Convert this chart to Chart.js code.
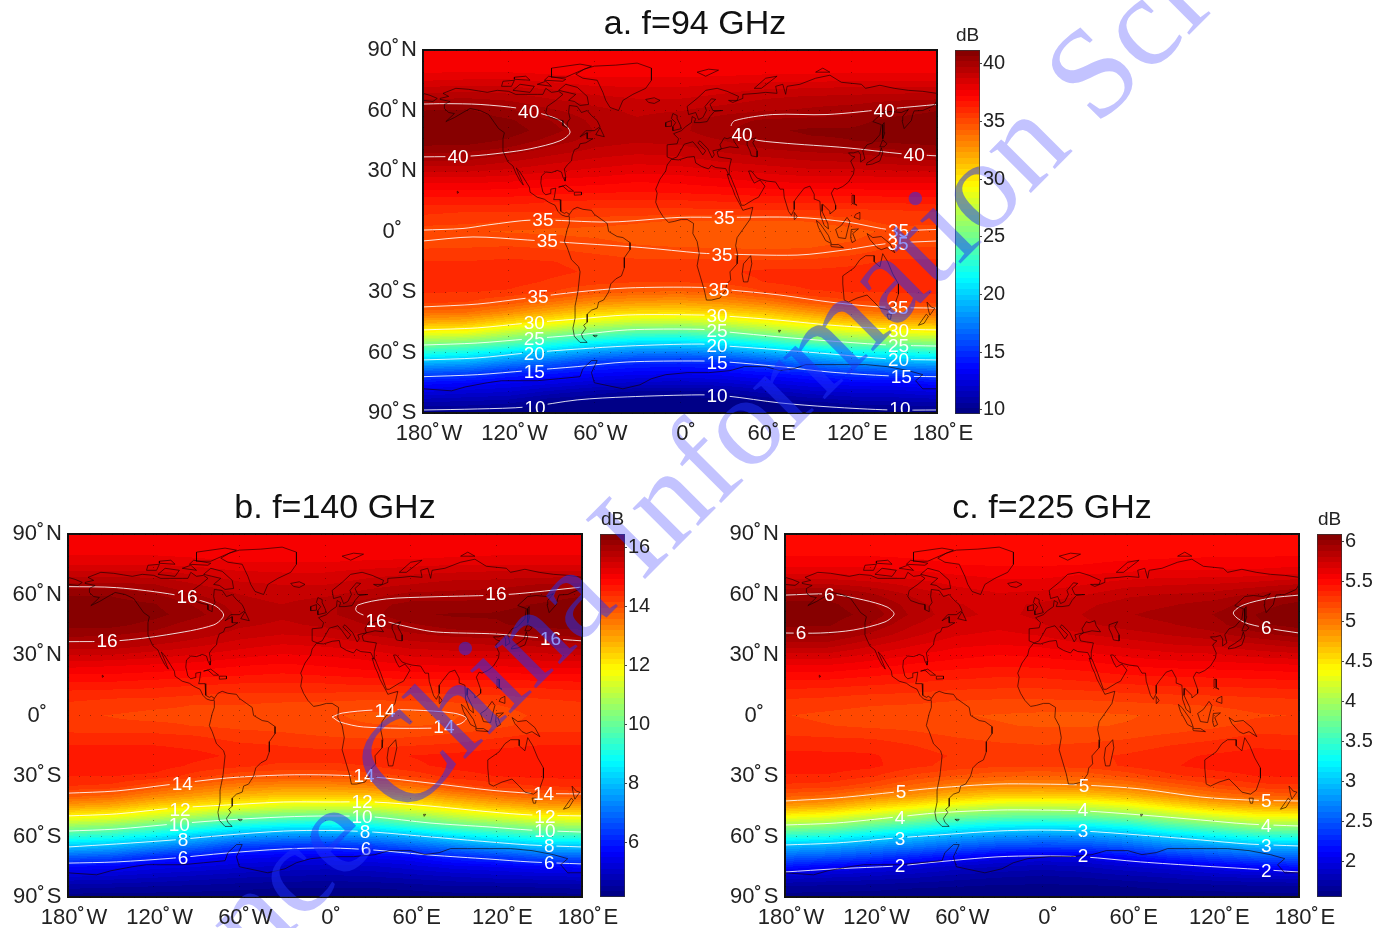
<!DOCTYPE html>
<html>
<head>
<meta charset="utf-8">
<title>Rain attenuation maps</title>
<script src="https://cdn.jsdelivr.net/npm/chart.js@4"></script>
<style>
html, body { margin: 0; padding: 0; background: #fff; width: 1377px; height: 928px; overflow: hidden; position: relative; }
canvas { position: absolute; }
.wm {
    position: absolute; left: 99px; top: 1018px; white-space: nowrap;
    font: 128px/1 "Liberation Serif", serif;
    transform-origin: 0 0.8375em; transform: rotate(-45deg); pointer-events: none;
}
#wmBack { color: rgb(195, 195, 255); }
#wmFront { color: rgba(30, 50, 250, 0.5); }
#wmClip {
    position: absolute; left: 0; top: 0; width: 1377px; height: 928px; overflow: hidden; pointer-events: none;
    clip-path: path('M423 50H937V413H423Z M68 534H582V897H68Z M785 534H1299V897H785Z M955 50H979V415H955Z M600 534H625V898H600Z M1317 534H1342V898H1317Z');
}
</style>
</head>
<body>
<div class="wm" id="wmBack">Science China Information Sciences</div>
<canvas id="mapA"></canvas><canvas id="barA"></canvas>
<canvas id="mapB"></canvas><canvas id="barB"></canvas>
<canvas id="mapC"></canvas><canvas id="barC"></canvas>
<div id="wmClip"><div class="wm" id="wmFront">Science China Information Sciences</div></div>
<script>
const gridLons = [-180, -150, -120, -90, -60, -30, 0, 30, 60, 90, 120, 150, 180];
const gridLats = [90, 85, 80, 75, 70, 65, 60, 55, 50, 45, 40, 35, 30, 25, 20, 15, 10, 5, 0, -5, -10, -15, -20, -25, -30, -35, -40, -45, -50, -55, -60, -65, -70, -75, -80, -85, -90];

const lonTickLabels = { '-180': '180˚\u200AW', '-120': '120˚\u200AW', '-60': '60˚\u200AW', '0': '0˚', '60': '60˚\u200AE', '120': '120˚\u200AE', '180': '180˚\u200AE' };
const latTickLabels = { '90': '90˚\u200AN', '60': '60˚\u200AN', '30': '30˚\u200AN', '0': '0˚', '-30': '30˚\u200AS', '-60': '60˚\u200AS', '-90': '90˚\u200AS' };

const barTicksA = [10, 15, 20, 25, 30, 35, 40];
const barTicksB = [6, 8, 10, 12, 14, 16];
const barTicksC = [2, 2.5, 3, 3.5, 4, 4.5, 5, 5.5, 6];

// attenuation, rows follow gridLats, columns follow gridLons
const gridA = [
    [37.3, 37.3, 37.3, 37.3, 37.3, 37.3, 37.3, 37.3, 37.3, 37.3, 37.3, 37.3, 37.3],
    [37.4, 37.4, 37.4, 37.4, 37.4, 37.4, 37.4, 37.4, 37.4, 37.4, 37.4, 37.4, 37.4],
    [37.6, 37.6, 37.6, 37.5, 37.4, 37.4, 37.4, 37.4, 37.5, 37.5, 37.6, 37.6, 37.6],
    [38.2, 38.3, 38.3, 38.1, 37.9, 37.9, 37.9, 38, 38.1, 38.1, 38.2, 38.2, 38.2],
    [39, 39.1, 39, 38.8, 38.5, 38.4, 38.4, 38.6, 38.8, 38.9, 39, 39, 39],
    [39.8, 39.9, 39.7, 39.3, 39, 38.8, 38.8, 39, 39.3, 39.5, 39.5, 39.7, 39.8],
    [40.7, 40.8, 40.3, 39.8, 39.4, 39.1, 39.2, 39.5, 39.7, 39.8, 40, 40.4, 40.7],
    [41, 41.1, 40.8, 40.2, 39.6, 39.3, 39.6, 40, 40.3, 40.4, 40.5, 40.9, 41],
    [41.3, 41.3, 41, 40.4, 39.7, 39.4, 39.6, 40.1, 40.6, 40.8, 40.8, 41, 41.3],
    [41, 41, 40.6, 40, 39.5, 39.3, 39.4, 39.7, 40.2, 40.6, 40.7, 40.9, 41],
    [40.4, 40.3, 40, 39.5, 39.1, 38.9, 39, 39.3, 39.6, 39.8, 39.9, 40.1, 40.4],
    [39.7, 39.7, 39.3, 38.9, 38.6, 38.4, 38.5, 38.8, 39, 39.2, 39.3, 39.5, 39.7],
    [38.8, 38.8, 38.6, 38.3, 38.1, 37.9, 38, 38.2, 38.4, 38.6, 38.6, 38.7, 38.8],
    [37.9, 37.9, 37.8, 37.6, 37.5, 37.3, 37.4, 37.6, 37.8, 37.9, 37.9, 37.9, 37.9],
    [37.2, 37.2, 37.1, 37, 36.9, 36.8, 36.9, 37, 37.1, 37.1, 37.1, 37.2, 37.2],
    [36.5, 36.5, 36.5, 36.3, 36.2, 36.2, 36.2, 36.3, 36.4, 36.4, 36.4, 36.4, 36.5],
    [35.9, 35.8, 35.8, 35.8, 35.6, 35.6, 35.6, 35.6, 35.7, 35.7, 35.6, 35.7, 35.8],
    [35.55, 35.45, 35.25, 35, 35.05, 34.87, 34.74, 34.74, 34.74, 34.8, 35.05, 35.55, 35.5],
    [34.95, 34.85, 34.75, 34.7, 34.6, 34.5, 34.4, 34.4, 34.4, 34.45, 34.6, 34.95, 34.9],
    [35.02, 35.1, 35.1, 35, 34.9, 34.7, 34.6, 34.6, 34.6, 34.6, 34.8, 35.05, 35.02],
    [35.4, 35.4, 35.5, 35.4, 35.2, 35, 34.95, 34.9, 34.85, 34.9, 35.1, 35.5, 35.5],
    [35.8, 35.8, 35.9, 35.8, 35.6, 35.4, 35.4, 35.4, 35.4, 35.4, 35.6, 35.9, 35.9],
    [36, 36, 36.1, 35.9, 35.7, 35.6, 35.6, 35.7, 35.9, 35.9, 36, 36.1, 36],
    [36, 36, 36, 35.7, 35.5, 35.3, 35.3, 35.5, 35.8, 36, 36.1, 36, 36],
    [35.8, 35.8, 35.7, 35.3, 34.7, 34.3, 34.2, 34.5, 35.3, 35.7, 35.8, 35.8, 35.9],
    [35.4, 35.3, 34.7, 33.8, 33, 32.6, 32.5, 32.8, 33.5, 34.6, 35.2, 35.3, 35.4],
    [34, 33.9, 33, 31.9, 30.9, 30.5, 30.4, 30.8, 31.4, 32.5, 33.5, 33.9, 34],
    [32, 31.7, 30.6, 29.6, 28.3, 27.6, 27.5, 28.1, 29.1, 30.2, 31.2, 31.7, 32],
    [29.2, 29, 27.5, 26.3, 25, 24.1, 24, 24.8, 26, 27.3, 28.3, 29, 29.2],
    [26, 25.4, 24.4, 22.8, 21.5, 20.6, 20.5, 21.2, 22.4, 24, 25.1, 25.4, 26],
    [22.6, 22, 20.7, 19.5, 18.3, 17.6, 17.5, 17.9, 19, 20, 21.5, 22, 22.6],
    [19.2, 18.8, 17.6, 16.5, 15.3, 14.8, 14.7, 14.9, 15.9, 17.2, 18.2, 18.8, 19.2],
    [16.2, 15.8, 14.8, 14.3, 13.7, 13.4, 13.3, 13.5, 14, 14.6, 15.4, 15.8, 16.2],
    [13.9, 13.6, 13.2, 12.8, 12.3, 12, 11.9, 12.1, 12.6, 13.1, 13.5, 13.6, 13.9],
    [12.5, 12.2, 12, 11.3, 10.8, 10.4, 10.3, 10.5, 11.2, 11.8, 12.1, 12.2, 12.5],
    [11, 10.9, 10.7, 10, 9.9, 9.9, 9.8, 9.9, 9.9, 10.4, 10.8, 10.9, 11],
    [9.9, 9.9, 9.8, 9.7, 9.7, 9.7, 9.7, 9.7, 9.7, 9.7, 9.8, 9.9, 9.9]
];

const gridB = [
    [14.95, 14.95, 14.95, 14.95, 14.95, 14.95, 14.95, 14.95, 14.95, 14.95, 14.95, 14.95, 14.95],
    [15, 15, 15, 15, 15, 15, 15, 15, 15, 15, 15, 15, 15],
    [15.1, 15.1, 15.1, 15.05, 15, 15, 15, 15, 15, 15.05, 15.1, 15.1, 15.1],
    [15.3, 15.3, 15.3, 15.25, 15.15, 15.15, 15.15, 15.2, 15.25, 15.3, 15.3, 15.3, 15.3],
    [15.6, 15.6, 15.6, 15.5, 15.4, 15.35, 15.35, 15.45, 15.5, 15.55, 15.6, 15.6, 15.6],
    [15.95, 15.95, 15.9, 15.7, 15.55, 15.5, 15.5, 15.6, 15.7, 15.8, 15.8, 15.9, 15.95],
    [16.25, 16.25, 16.1, 15.9, 15.7, 15.6, 15.65, 15.8, 15.95, 15.95, 16, 16.15, 16.25],
    [16.4, 16.4, 16.3, 16.05, 15.8, 15.7, 15.85, 16, 16.15, 16.15, 16.2, 16.3, 16.4],
    [16.45, 16.45, 16.35, 16.15, 15.85, 15.75, 15.85, 16, 16.25, 16.3, 16.3, 16.4, 16.45],
    [16.35, 16.35, 16.2, 15.95, 15.75, 15.65, 15.75, 15.9, 16.05, 16.2, 16.25, 16.35, 16.4],
    [16.15, 16.1, 16, 15.8, 15.6, 15.5, 15.55, 15.7, 15.85, 15.95, 16, 16.1, 16.15],
    [15.85, 15.85, 15.7, 15.55, 15.4, 15.3, 15.35, 15.45, 15.6, 15.65, 15.7, 15.75, 15.85],
    [15.5, 15.5, 15.4, 15.3, 15.2, 15.1, 15.15, 15.2, 15.35, 15.4, 15.4, 15.45, 15.5],
    [15.2, 15.15, 15.1, 15.05, 14.95, 14.9, 14.95, 15.05, 15.1, 15.15, 15.15, 15.2, 15.2],
    [14.9, 14.9, 14.85, 14.8, 14.75, 14.7, 14.75, 14.8, 14.85, 14.85, 14.85, 14.9, 14.9],
    [14.65, 14.65, 14.6, 14.55, 14.5, 14.5, 14.5, 14.55, 14.55, 14.6, 14.6, 14.6, 14.65],
    [14.45, 14.4, 14.4, 14.35, 14.3, 14.3, 14.3, 14.25, 14.3, 14.3, 14.35, 14.4, 14.45],
    [14.3, 14.25, 14.2, 14.15, 14.15, 14.1, 14.08, 14.05, 14.05, 14.1, 14.15, 14.25, 14.3],
    [14.2, 14.15, 14.1, 14.1, 14.1, 14.05, 14, 13.92, 13.9, 13.95, 14.05, 14.2, 14.2],
    [14.25, 14.2, 14.2, 14.15, 14.1, 14.08, 14.02, 13.98, 13.96, 13.98, 14.1, 14.25, 14.25],
    [14.4, 14.4, 14.4, 14.35, 14.25, 14.2, 14.15, 14.1, 14.12, 14.2, 14.3, 14.4, 14.4],
    [14.55, 14.55, 14.55, 14.5, 14.4, 14.35, 14.3, 14.3, 14.35, 14.4, 14.5, 14.55, 14.55],
    [14.6, 14.65, 14.65, 14.6, 14.5, 14.45, 14.45, 14.45, 14.55, 14.6, 14.65, 14.65, 14.6],
    [14.6, 14.65, 14.65, 14.5, 14.4, 14.3, 14.3, 14.35, 14.5, 14.6, 14.65, 14.65, 14.6],
    [14.55, 14.55, 14.5, 14.25, 14.02, 13.95, 13.95, 14.02, 14.2, 14.45, 14.55, 14.6, 14.6],
    [14.35, 14.3, 14, 13.65, 13.4, 13.25, 13.25, 13.35, 13.6, 14.05, 14.25, 14.35, 14.4],
    [13.85, 13.7, 13.3, 13, 12.7, 12.5, 12.5, 12.55, 12.8, 13.2, 13.55, 13.8, 13.9],
    [13, 12.85, 12.4, 12.1, 11.75, 11.45, 11.4, 11.45, 11.85, 12.3, 12.65, 12.95, 13],
    [11.95, 11.75, 11.3, 10.85, 10.3, 10.1, 9.95, 10.1, 10.6, 11.1, 11.5, 11.9, 11.95],
    [10.6, 10.4, 9.9, 9.4, 8.9, 8.65, 8.55, 8.75, 9.3, 9.85, 10.2, 10.55, 10.7],
    [9.3, 9.1, 8.6, 8.05, 7.6, 7.35, 7.3, 7.45, 7.85, 8.4, 8.85, 9.25, 9.35],
    [8.05, 7.85, 7.4, 6.95, 6.4, 6.25, 6.15, 6.35, 6.75, 7.2, 7.6, 8, 8.05],
    [6.8, 6.65, 6.2, 5.85, 5.6, 5.5, 5.45, 5.55, 5.7, 6.1, 6.4, 6.75, 6.85],
    [5.7, 5.6, 5.4, 5.3, 5.15, 5.05, 5, 5.05, 5.2, 5.4, 5.5, 5.65, 5.75],
    [5.1, 5.05, 4.95, 4.85, 4.75, 4.7, 4.65, 4.7, 4.8, 4.9, 5, 5.05, 5.1],
    [4.6, 4.55, 4.5, 4.45, 4.4, 4.35, 4.35, 4.35, 4.4, 4.5, 4.5, 4.55, 4.6],
    [4.2, 4.2, 4.2, 4.2, 4.2, 4.15, 4.15, 4.15, 4.2, 4.2, 4.2, 4.2, 4.2]
];

const gridC = [
    [5.49, 5.49, 5.49, 5.49, 5.49, 5.49, 5.49, 5.49, 5.49, 5.49, 5.49, 5.49, 5.49],
    [5.5, 5.5, 5.5, 5.5, 5.5, 5.5, 5.5, 5.5, 5.5, 5.5, 5.5, 5.5, 5.5],
    [5.52, 5.52, 5.52, 5.51, 5.5, 5.5, 5.5, 5.5, 5.5, 5.51, 5.52, 5.52, 5.52],
    [5.58, 5.58, 5.58, 5.56, 5.53, 5.52, 5.52, 5.53, 5.55, 5.56, 5.56, 5.56, 5.58],
    [5.68, 5.68, 5.66, 5.63, 5.6, 5.58, 5.58, 5.6, 5.62, 5.64, 5.64, 5.65, 5.68],
    [5.82, 5.82, 5.78, 5.72, 5.66, 5.63, 5.63, 5.67, 5.72, 5.74, 5.75, 5.78, 5.82],
    [5.98, 6, 5.9, 5.8, 5.72, 5.68, 5.7, 5.74, 5.8, 5.82, 5.84, 5.9, 5.98],
    [6.05, 6.05, 5.97, 5.85, 5.75, 5.72, 5.76, 5.8, 5.85, 5.88, 5.92, 6, 6.05],
    [6.08, 6.07, 6, 5.87, 5.76, 5.73, 5.76, 5.82, 5.88, 5.92, 5.96, 6.03, 6.08],
    [6.04, 6.04, 5.95, 5.82, 5.73, 5.7, 5.74, 5.8, 5.85, 5.88, 5.93, 6.02, 6.05],
    [5.98, 5.97, 5.87, 5.76, 5.68, 5.65, 5.68, 5.74, 5.78, 5.82, 5.86, 5.93, 5.99],
    [5.85, 5.85, 5.76, 5.68, 5.62, 5.6, 5.62, 5.66, 5.7, 5.74, 5.76, 5.8, 5.85],
    [5.72, 5.72, 5.66, 5.6, 5.56, 5.53, 5.55, 5.58, 5.62, 5.65, 5.66, 5.7, 5.72],
    [5.6, 5.6, 5.56, 5.52, 5.49, 5.47, 5.48, 5.5, 5.54, 5.56, 5.57, 5.58, 5.6],
    [5.5, 5.5, 5.47, 5.44, 5.42, 5.4, 5.41, 5.43, 5.46, 5.47, 5.48, 5.49, 5.5],
    [5.42, 5.41, 5.39, 5.37, 5.35, 5.34, 5.34, 5.36, 5.38, 5.4, 5.4, 5.41, 5.42],
    [5.34, 5.33, 5.31, 5.3, 5.28, 5.27, 5.27, 5.28, 5.3, 5.31, 5.32, 5.33, 5.34],
    [5.28, 5.27, 5.25, 5.24, 5.22, 5.21, 5.21, 5.21, 5.22, 5.24, 5.25, 5.27, 5.28],
    [5.25, 5.23, 5.21, 5.2, 5.18, 5.17, 5.16, 5.16, 5.17, 5.19, 5.21, 5.24, 5.25],
    [5.27, 5.25, 5.23, 5.22, 5.19, 5.18, 5.17, 5.17, 5.18, 5.2, 5.23, 5.27, 5.27],
    [5.32, 5.31, 5.3, 5.27, 5.24, 5.22, 5.21, 5.21, 5.23, 5.26, 5.29, 5.33, 5.32],
    [5.37, 5.36, 5.36, 5.32, 5.28, 5.26, 5.25, 5.26, 5.28, 5.32, 5.35, 5.38, 5.37],
    [5.41, 5.41, 5.4, 5.35, 5.31, 5.28, 5.28, 5.3, 5.33, 5.37, 5.4, 5.42, 5.41],
    [5.43, 5.43, 5.41, 5.34, 5.29, 5.26, 5.26, 5.28, 5.33, 5.38, 5.42, 5.44, 5.43],
    [5.38, 5.38, 5.33, 5.23, 5.17, 5.12, 5.1, 5.12, 5.2, 5.3, 5.35, 5.39, 5.4],
    [5.3, 5.28, 5.2, 5.08, 4.97, 4.93, 4.92, 4.95, 5, 5.12, 5.22, 5.29, 5.3],
    [5.12, 5.08, 4.95, 4.85, 4.7, 4.6, 4.6, 4.62, 4.72, 4.88, 5.02, 5.1, 5.12],
    [4.82, 4.76, 4.6, 4.45, 4.27, 4.16, 4.15, 4.18, 4.3, 4.5, 4.68, 4.78, 4.82],
    [4.4, 4.32, 4.15, 3.97, 3.78, 3.7, 3.67, 3.72, 3.85, 4.05, 4.22, 4.36, 4.38],
    [3.93, 3.85, 3.65, 3.47, 3.3, 3.2, 3.17, 3.2, 3.32, 3.55, 3.72, 3.9, 3.93],
    [3.42, 3.35, 3.15, 3, 2.87, 2.78, 2.74, 2.76, 2.88, 3.05, 3.22, 3.38, 3.43],
    [2.92, 2.86, 2.75, 2.65, 2.52, 2.43, 2.4, 2.42, 2.52, 2.68, 2.78, 2.9, 2.93],
    [2.55, 2.5, 2.4, 2.27, 2.15, 2.03, 1.99, 2.02, 2.15, 2.3, 2.42, 2.52, 2.56],
    [2.2, 2.1, 2.02, 1.95, 1.88, 1.83, 1.8, 1.83, 1.9, 1.95, 2.04, 2.12, 2.2],
    [1.88, 1.85, 1.82, 1.78, 1.73, 1.7, 1.68, 1.7, 1.74, 1.78, 1.83, 1.86, 1.88],
    [1.68, 1.66, 1.65, 1.63, 1.62, 1.6, 1.6, 1.6, 1.62, 1.64, 1.65, 1.67, 1.68],
    [1.58, 1.58, 1.58, 1.57, 1.57, 1.56, 1.56, 1.56, 1.57, 1.57, 1.58, 1.58, 1.58]
];

// contour lines as [lon, lat]
const contoursA = [
    [[-180, 63.2], [-165, 63.4], [-140, 63], [-112, 61], [-95, 58], [-84, 55], [-77, 49.3], [-84, 45], [-105, 41], [-124, 39], [-147, 37.4], [-180, 37]],
    [[180, 63], [149, 61], [103, 58], [65, 58], [38.5, 55], [36, 52], [50, 46], [70, 44], [117, 41.5], [156, 38.5], [180, 37.5]],
    [[-180, 0.7], [-152, 1.5], [-135, 3.2], [-103, 5.7], [-49, 4.7], [0, 7], [30, 7], [82, 7], [117, 4.7], [149, 0.7], [180, 1]],
    [[-180, -4.7], [-145, -2.7], [-107, -4.2], [-68, -6], [-26, -8], [14, -10.7], [23, -11], [82, -11.7], [117, -9], [145, -6], [180, -4.7]],
    [[-180, -37.4], [-142, -36], [-107, -33], [-72, -30], [-37, -28], [14, -27.7], [35, -29], [70, -31.5], [105, -35], [140, -37.4], [180, -38]],
    [[-180, -48.8], [-142, -47.8], [-107, -45.4], [-72, -43.4], [-37, -41.4], [14, -41.4], [33, -42], [70, -44], [105, -46.4], [147, -48.3], [180, -48.8]],
    [[-180, -56.3], [-142, -55.3], [-107, -53.3], [-72, -51.3], [-37, -48.8], [14, -48.5], [33, -49.8], [70, -52.3], [105, -54.3], [147, -56.3], [180, -56.8]],
    [[-180, -63.7], [-142, -62.7], [-107, -60.2], [-72, -58.3], [-37, -56.8], [14, -55.8], [33, -56.8], [70, -58.7], [105, -60.7], [147, -63.2], [180, -63.7]],
    [[-180, -72], [-142, -71], [-107, -69], [-72, -67], [-37, -64.7], [14, -64.2], [33, -64.7], [70, -67], [105, -69.7], [147, -71.6], [180, -72]],
    [[-180, -88.5], [-142, -88], [-107, -87], [-72, -83.5], [-37, -82], [14, -81], [33, -81.6], [70, -85], [105, -87], [147, -88.5], [180, -88.5]]
];
const contoursB = [
    [[-180, 63.9], [-146, 63.4], [-104, 59.7], [-78, 54.8], [-71, 49.8], [-78, 44.9], [-111, 40], [-146, 37], [-180, 36.6]],
    [[180, 63.7], [127.5, 60], [73.5, 58.8], [43, 57.8], [23, 54.8], [21.7, 52], [29, 49.3], [61.6, 43.4], [78, 41.4], [120, 40.4], [153, 38.4], [180, 37]],
    [[5, -0.7], [12, 1.2], [34, 2.7], [62, 2.7], [90, 1.2], [99, -1.2], [94.5, -4.2], [78, -6.2], [27, -5.7], [10.5, -3.2], [5, -0.7]],
    [[-180, -38.5], [-146, -37.4], [-106, -34], [-69, -31], [-29, -29.5], [3.5, -29.5], [34, -30.5], [73.5, -33.5], [115.5, -37], [143.5, -38.5], [180, -38.9]],
    [[-180, -49.8], [-146, -48.8], [-106, -45.9], [-69, -44.4], [-29, -42.9], [3.5, -42.9], [34, -42.9], [73.5, -44.9], [115.5, -47.8], [143.5, -49.3], [180, -49.8]],
    [[-180, -57.3], [-146, -56.3], [-106, -53.8], [-69, -51.8], [-29, -50.3], [3.5, -49.8], [34, -50.3], [73.5, -53.3], [115.5, -55.3], [143.5, -56.8], [180, -57.8]],
    [[-180, -65.2], [-146, -63.7], [-106, -61.7], [-69, -59.3], [-29, -57.3], [3.5, -57], [34, -57.8], [73.5, -60.2], [115.5, -62.7], [143.5, -64.2], [180, -65.2]],
    [[-180, -73.2], [-146, -72.6], [-106, -70.7], [-69, -68.2], [-29, -66.2], [3.5, -65.7], [34, -66.7], [73.5, -69.2], [115.5, -71.2], [143.5, -72.6], [180, -73.6]]
];
const contoursC = [
    [[-180, 59.7], [-148.5, 60.2], [-125, 57.3], [-108.5, 53.8], [-103.6, 50.3], [-110, 46.4], [-132, 42.4], [-155, 40.9], [-180, 40.9]],
    [[180, 59.7], [160, 58.2], [141, 54.8], [134, 50.8], [141, 46.4], [157.5, 43.4], [180, 40.9]],
    [[-180, -42.4], [-144, -40.9], [-101.5, -37.9], [-73.5, -35.9], [-31.5, -34], [-1.4, -34], [29, -34.5], [69, -36.4], [111, -40.4], [144, -41.9], [180, -42.4]],
    [[-180, -54.3], [-144, -53.3], [-101.5, -50.3], [-73.5, -48.3], [-31.5, -46.9], [-1.4, -46.9], [29, -47.3], [69, -49.3], [111, -51.8], [144, -53.8], [180, -54.8]],
    [[-180, -64.2], [-144, -63.2], [-101.5, -60.7], [-73.5, -59.3], [-31.5, -57.3], [-1.4, -56.8], [29, -57.3], [69, -59.3], [111, -61.7], [144, -63.7], [180, -64.7]],
    [[-180, -77.6], [-144, -76], [-101.5, -74.6], [-73.5, -72.6], [-31.5, -70.1], [-1.4, -69.6], [29, -70.1], [69, -72.6], [111, -74.6], [144, -76], [180, -77.6]]
];

// contour labels as [text, lon, lat]
const labelsA = [
    ['40', -106, 59.3], ['40', -155.5, 37], ['40', 43.4, 47.8], ['40', 143, 60], ['40', 164, 38],
    ['35', -96, 5.7], ['35', -93, -4.7], ['35', 31, 6.7], ['35', 29.4, -11.7], ['35', 153, 0.2], ['35', 152.7, -6.2],
    ['35', -99.4, -32.5], ['35', 27.3, -29], ['35', 152.7, -38],
    ['30', -102, -45.4], ['30', 26, -42], ['30', 153, -49.3],
    ['25', -102, -53.3], ['25', 26, -49.3], ['25', 153, -56.8],
    ['20', -102, -60.7], ['20', 26, -56.8], ['20', 153, -63.7],
    ['15', -102, -69.7], ['15', 26, -65.2], ['15', 155, -72],
    ['10', -101.5, -87.5], ['10', 26, -81.6], ['10', 154, -88]
];
const labelsB = [
    ['16', -96.6, 58.8], ['16', -152.7, 37], ['16', 119.7, 60.2], ['16', 35.7, 46.9], ['16', 158, 37.9],
    ['14', 42, 2.2], ['14', 83.3, -5.7], ['14', -100, -34], ['14', 27.3, -30], ['14', 153, -38.9],
    ['12', -101.5, -46.9], ['12', 26, -42.9], ['12', 154, -50.3],
    ['10', -102, -54.3], ['10', 26, -50.3], ['10', 154, -57.3],
    ['8', -99.4, -61.7], ['8', 28, -57.8], ['8', 157, -64.7],
    ['6', -99.4, -70.6], ['6', 28.7, -66.2], ['6', 157, -73]
];
const labelsC = [
    ['6', -149, 59.7], ['6', -168.8, 40.9], ['6', 157, 43.4],
    ['5', -98.7, -37.9], ['5', 29.4, -35], ['5', 157, -42.4],
    ['4', -99.4, -50.8], ['4', 28.7, -46.9], ['4', 157, -54.8],
    ['3', -99.4, -61.2], ['3', 28.7, -57.3], ['3', 157, -64.7],
    ['2', -99.4, -74.6], ['2', 28.7, -69.6], ['2', 157, -77]
];

// coastlines as [lon, lat]
const coastNorthAmerica = [[-168, 66], [-162, 67], [-166, 68.5], [-157, 71], [-148, 70.5], [-141, 69.7], [-135, 69], [-128, 70], [-120, 69.5], [-115, 68], [-108, 68], [-100, 68], [-96, 68], [-94, 71], [-90, 69], [-85, 69.5], [-82, 68], [-87, 65], [-93, 62], [-94, 59], [-92, 57], [-86, 55.5], [-82, 55], [-82, 52.5], [-79, 51.5], [-79, 54], [-77, 56], [-78, 59], [-77.5, 62.5], [-72, 62], [-69, 59], [-65, 60], [-62, 57.5], [-58, 55], [-56, 52], [-60, 50], [-66, 50], [-70, 47], [-65, 49], [-65, 46], [-61, 46], [-66, 44], [-70, 43.5], [-71, 41.5], [-74, 40.5], [-75.5, 37.5], [-76, 35], [-79, 33], [-81, 31], [-80, 27], [-80.5, 25], [-82, 27], [-83, 29.5], [-86, 30.3], [-90, 29.2], [-94, 29.5], [-97, 27.5], [-97.5, 24], [-96, 19.5], [-94, 18.2], [-91, 18.8], [-90.5, 21], [-87, 21.5], [-88, 17], [-88.5, 15.8], [-84, 15.8], [-83.5, 12], [-83.5, 10], [-81, 9], [-79.5, 9.5], [-77.5, 8.5], [-78, 7.5], [-80, 7.5], [-83, 8.2], [-85.5, 10], [-87.5, 13], [-92, 14.5], [-95, 16], [-100, 17], [-105, 19.5], [-105.5, 22], [-109, 26], [-112.5, 30], [-114.7, 31.5], [-112, 27], [-109.7, 23], [-112, 25], [-115, 29], [-117, 32.5], [-120.5, 34.5], [-122.5, 37.5], [-124, 40], [-124, 46], [-123, 49], [-127, 51], [-130, 54], [-134, 58], [-140, 60], [-147, 61], [-152, 59], [-158, 56.5], [-164, 54.5], [-158, 58.5], [-162, 59], [-165, 61], [-165, 63], [-161, 64.5], [-168, 65.5], [-168, 66]];
const coastSouthAmerica = [[-77.5, 8.5], [-75, 11], [-72, 12], [-68, 11], [-62, 10.5], [-60, 8.5], [-55, 6], [-51, 4], [-50, 0], [-44, -2.5], [-40, -3], [-35, -5.5], [-35, -9], [-39, -13], [-39, -18], [-41, -22], [-45, -23.5], [-48.5, -26], [-50, -30], [-53.5, -34], [-57, -35], [-58, -38], [-62, -39], [-65, -41], [-65, -45], [-67.5, -46.5], [-66, -48], [-69, -51], [-68, -53], [-65, -55], [-70, -55], [-74, -52], [-75, -48], [-73.5, -43], [-73.5, -37], [-71.5, -30], [-70, -20], [-71, -17.5], [-76, -14], [-79, -8], [-81, -5], [-80, -2], [-79, 1], [-77.5, 4], [-77.5, 7.5]];
const coastAfrica = [[-6, 35.8], [-1, 35.5], [5, 36.8], [10, 37.2], [11, 34], [15, 32.3], [20, 31], [22, 32.8], [25, 31.7], [32, 31.2], [34.3, 28], [33, 28.5], [35, 24], [37, 21], [38.5, 18], [43, 12], [44, 10.5], [51, 12], [49, 6], [44, 1], [40, -3], [39, -7], [40.5, -12], [40, -16], [35, -20], [35.5, -24], [32.7, -26], [32, -29], [28, -33], [22, -34], [18.5, -34], [17, -29], [14.5, -23], [12, -17], [13.5, -11], [12, -5], [9, -1], [9.5, 4], [5, 6], [1, 6], [-4, 5], [-8, 4.5], [-12, 7.5], [-15, 11], [-17, 14.5], [-16, 19], [-17, 21], [-14, 26], [-10, 30], [-9, 33], [-6, 35.8]];
const coastEurasiaWest = [[-9, 37], [-9, 43], [-2, 43.5], [-1, 46], [-4.5, 48.5], [1, 50], [4, 52], [8, 54], [8.5, 57], [11, 56], [10, 54], [14, 54], [19, 54.5], [21, 57], [24, 59.5], [30, 60], [23, 60], [21, 63], [25, 65.5], [22, 65.8], [17.5, 62], [18.5, 60], [16, 56.5], [13, 55.5], [11, 59], [6, 58], [5, 62], [12, 66], [18, 70], [26, 71], [33, 69.5], [41, 67], [40, 65], [34, 65], [37, 64], [44, 66], [44, 68], [54, 68.5], [60, 69], [68, 68.5], [67, 72], [72, 73], [74, 68], [75, 72], [84, 73], [95, 76], [105, 77.5], [113, 74], [127, 73], [130, 71], [140, 72.5], [150, 71], [160, 70], [170, 69.5], [180, 68.5]];
const coastChukotka = [[-180, 68.5], [-175, 67.5], [-170, 66], [-173, 64.5], [-180, 65]];
const coastEurasiaEast = [[180, 65], [178, 62.5], [170, 60], [164, 59.8], [163, 58], [162, 55], [157, 51], [155.5, 55], [156, 57], [160, 60.5], [155, 59], [148, 59.5], [142, 59], [135, 54.5], [141, 53], [140, 48], [135, 44], [131, 43], [128, 40], [129.5, 36], [126.5, 34.5], [126.5, 38], [125, 39.7], [121.5, 39], [118, 39], [120, 37.5], [122.5, 37], [119.5, 35], [122, 31], [121.5, 28.5], [118, 24.5], [114, 22.3], [110, 21], [108, 21.5], [106, 19], [109, 13], [109, 11], [105, 8.7], [105, 10], [100, 13.5], [99.5, 10], [103.5, 4], [104, 1.3], [101, 3], [98.5, 8], [98, 15], [94.5, 16], [94, 18.5], [91, 22.5], [87, 21.5], [82, 17], [80, 15], [80, 11], [78, 8], [76, 10], [73, 17], [72.5, 21], [70, 21], [67, 24.5], [61, 25], [57, 25.7], [54, 26.5], [50, 30], [48, 30], [50, 26.5], [52, 24], [56, 25.5], [59.5, 22.5], [55, 17], [52, 16], [45, 13], [43, 13], [39, 21], [35, 28], [34.5, 31.5], [36, 36], [31, 36.5], [27, 37], [26, 39.5], [29, 41], [35, 42], [41, 41.5], [38, 44.5], [37, 47], [33, 46], [31, 46.5], [28, 43], [29, 41], [26, 40.5], [23, 40], [24, 38], [22.5, 36.5], [19.5, 41], [14, 45], [12.5, 44], [18, 40], [16, 38], [12, 42], [9, 44.5], [3, 43.3], [0, 39.5], [-2, 37], [-5.5, 36], [-9, 37]];
const coastCaspian = [[47, 45], [53, 46.5], [51, 44], [54, 40], [54, 37], [50, 37.5], [49, 40], [47, 43], [47, 45]];
const coastGreenland = [[-73, 78], [-67, 80.5], [-60, 82], [-45, 82.5], [-30, 83.5], [-20, 81], [-20, 75], [-24, 71], [-33, 68], [-40, 65], [-43, 60], [-49, 61.5], [-52, 65], [-54, 69], [-58, 75], [-68, 76], [-73, 78]];
const coastAustralia = [[114, -22], [122, -18], [126, -14], [130, -12], [136, -12], [136, -15], [140, -17.5], [142, -11], [145.5, -15], [149, -21], [153, -26], [153, -31], [150, -37], [146, -39], [140, -38], [136, -35], [131, -31.5], [124, -33], [118, -35], [115, -34], [114, -26], [114, -22]];
const coastAntarctica = [[180, -78], [170, -78], [165, -74], [170, -71], [160, -69], [145, -67], [130, -66], [115, -66], [100, -66], [88, -66], [80, -68], [70, -69], [60, -67], [45, -67], [35, -69], [20, -70], [5, -70], [-10, -71], [-20, -73], [-28, -76], [-40, -78], [-60, -75], [-62, -70], [-58, -64], [-62, -64], [-68, -68], [-70, -72], [-85, -73], [-100, -74], [-115, -74], [-125, -74], [-135, -75], [-150, -77], [-160, -79], [-180, -78]];
const coastIslands = [
    [[49.5, -12], [50.3, -16], [47.5, -25], [44.5, -25], [43.5, -21], [44.5, -16], [49.5, -12]],
    [[-80, 73], [-72, 71.5], [-65, 67], [-64, 63], [-70, 62.5], [-74, 64.5], [-78, 65], [-73, 68], [-85, 70], [-80, 73]],
    [[-117, 70], [-105, 69], [-102, 72], [-112, 73], [-117, 70]],
    [[-90, 76.5], [-80, 76.5], [-72, 79], [-62, 82], [-70, 83], [-90, 81], [-90, 76.5]],
    [[-125, 72], [-118, 72], [-116, 75], [-124, 74.5], [-125, 72]],
    [[-95, 75], [-82, 74.5], [-80, 75.5], [-92, 77], [-95, 75]],
    [[-100, 73], [-90, 72], [-94, 74.5], [-100, 73]],
    [[-116, 75.5], [-105, 75], [-108, 77], [-116, 76.5], [-116, 75.5]],
    [[-24, 65.5], [-18, 66.3], [-14, 65], [-18, 63.5], [-22, 64], [-24, 65.5]],
    [[-5, 50], [1, 51], [0, 53], [-2, 56], [-2, 57.5], [-5, 58.5], [-6, 56], [-3, 54], [-5, 52], [-5, 50]],
    [[-10, 52], [-6, 52.2], [-6, 55], [-10, 54], [-10, 52]],
    [[12, 79], [20, 80.5], [27, 80], [18, 77], [12, 79]],
    [[52, 71], [57, 71], [68, 77], [60, 76], [52, 71]],
    [[95, 79], [105, 79], [100, 81], [95, 79]],
    [[130.5, 33], [135, 33.5], [140, 35], [142, 39], [141, 41.5], [139.5, 38], [135, 35.7], [131, 34], [130.5, 33]],
    [[140, 42], [143, 42], [145, 43.5], [142, 45.5], [140, 42]],
    [[142, 46], [143.5, 49], [143, 54], [142, 53], [142, 46]],
    [[120.5, 18], [122, 18], [122, 14], [124, 13], [120.5, 14], [120.5, 18]],
    [[122, 7], [126, 6], [126, 9.5], [123, 8.5], [122, 7]],
    [[109, 1], [113, 3], [117, 7], [119, 5], [117.5, 1], [116, -3.5], [111, -3], [109, 1]],
    [[95.5, 5.5], [98, 4], [104, -2], [106, -6], [102, -4.5], [97, 2], [95.5, 5.5]],
    [[105.5, -6.5], [111, -6.5], [114.5, -8], [106, -7.5], [105.5, -6.5]],
    [[120, 1], [125, 1.3], [121, -1], [123, -4.5], [120.5, -5.5], [119.5, -3], [120, 1]],
    [[131, -1], [135, -3], [141, -2.5], [147, -6], [150.5, -10.5], [145, -8], [141, -9], [138, -8], [133, -4], [131, -1]],
    [[145, -41], [148, -41], [147.5, -43.5], [146, -43.5], [145, -41]],
    [[173, -35], [176, -37.5], [178.5, -38], [175, -41.5], [174, -39], [173, -35]],
    [[172.5, -41], [174, -42], [171, -45.5], [167, -46.5], [172.5, -41]],
    [[80, 9.5], [82, 7.5], [80.5, 6], [80, 9.5]],
    [[-85, 22], [-80, 23], [-74.5, 20], [-78, 20], [-82, 22.5], [-85, 22]],
    [[-74, 19.5], [-69, 19.5], [-69, 18.2], [-74, 18], [-74, 19.5]],
    [[-59, 48], [-56, 51.5], [-53, 47], [-59, 48]],
    [[-156, 20], [-155, 19.5], [-155.5, 19], [-156, 20]],
    [[-61, -51.5], [-58, -51.5], [-59, -52.3], [-61, -51.5]],
    [[69, -49], [70.5, -49], [69.5, -50], [69, -49]]
];
const coastlines = [coastNorthAmerica, coastSouthAmerica, coastAfrica, coastEurasiaWest, coastChukotka, coastEurasiaEast, coastCaspian, coastGreenland, coastAustralia, coastAntarctica, ...coastIslands];

Chart.defaults.font.family = '"Liberation Sans", Arial, sans-serif';
Chart.defaults.color = '#222';

const JET_LEVELS = 64;

function jetColor(f) {
    const idx = Math.max(0, Math.min(JET_LEVELS - 1, Math.floor(f * JET_LEVELS)));
    const t = (idx + 0.5) / JET_LEVELS;
    const band = c => Math.round(255 * Math.max(0, Math.min(1, 1.5 - Math.abs(4 * t - c))));
    return [band(3), band(2), band(1)];
}

function sampleGrid(grid, lon, lat) {
    const u = Math.max(0, Math.min(gridLons.length - 1.001, (lon + 180) / 30));
    const v = Math.max(0, Math.min(gridLats.length - 1.001, (90 - lat) / 5));
    const i = Math.floor(u), j = Math.floor(v);
    const a = u - i, b = v - j;
    return (grid[j][i] * (1 - a) + grid[j][i + 1] * a) * (1 - b) + (grid[j + 1][i] * (1 - a) + grid[j + 1][i + 1] * a) * b;
}

// paints the field under the coastlines, one pixel at a time through the scales
const heatPlugin = {
    id: 'heat',
    beforeDatasetsDraw(chart, args, opts) {
        const { ctx, chartArea: area, scales } = chart;
        const w = Math.round(area.right - area.left), h = Math.round(area.bottom - area.top);
        const off = document.createElement('canvas');
        off.width = w;
        off.height = h;
        const octx = off.getContext('2d');
        const img = octx.createImageData(w, h);
        for (let py = 0; py < h; py++) {
            const lat = scales.y.getValueForPixel(area.top + py + 0.5);
            for (let px = 0; px < w; px++) {
                const lon = scales.x.getValueForPixel(area.left + px + 0.5);
                const [r, g, b] = jetColor((sampleGrid(opts.grid, lon, lat) - opts.min) / (opts.max - opts.min));
                const k = (py * w + px) * 4;
                img.data[k] = r;
                img.data[k + 1] = g;
                img.data[k + 2] = b;
                img.data[k + 3] = 255;
            }
        }
        octx.putImageData(img, 0, 0);
        ctx.drawImage(off, area.left, area.top);
    }
};

function labelBoxes(chart, labels) {
    const { ctx, scales } = chart;
    return labels.map(([text, lon, lat]) => {
        const w = ctx.measureText(text).width + 4;
        return [scales.x.getPixelForValue(lon) - w / 2, scales.y.getPixelForValue(lat) - 9, w, 18];
    });
}

// contour labels, the line stops at each label like in a clabel plot
const contourLabelPlugin = {
    id: 'contourLabels',
    beforeDatasetDraw(chart, args, opts) {
        if (!args.meta._dataset.isContour) return;
        const { ctx, width, height } = chart;
        ctx.save();
        ctx.font = '19px "Liberation Sans"';
        ctx.beginPath();
        ctx.rect(0, 0, width, height);
        labelBoxes(chart, opts.labels).forEach(b => ctx.rect(b[0], b[1], b[2], b[3]));
        ctx.clip('evenodd');
    },
    afterDatasetDraw(chart, args) {
        if (args.meta._dataset.isContour) chart.ctx.restore();
    },
    afterDatasetsDraw(chart, args, opts) {
        const { ctx, chartArea: area, scales } = chart;
        ctx.save();
        ctx.font = '19px "Liberation Sans"';
        ctx.fillStyle = '#fff';
        ctx.textAlign = 'center';
        ctx.textBaseline = 'middle';
        opts.labels.forEach(([text, lon, lat]) => {
            ctx.fillText(text, scales.x.getPixelForValue(lon), scales.y.getPixelForValue(lat) + 1);
        });
        ctx.strokeStyle = '#111';
        ctx.lineWidth = 2;
        ctx.strokeRect(area.left, area.top, area.right - area.left, area.bottom - area.top);
        ctx.restore();
    }
};

function toPoints(line) {
    return line.map(p => ({ x: p[0], y: p[1] }));
}

function drawMap(id, cfg) {
    const canvas = document.getElementById(id);
    canvas.width = cfg.width;
    canvas.height = cfg.height;
    canvas.style.left = cfg.left + 'px';
    canvas.style.top = cfg.top + 'px';

    const coastSets = coastlines.map(line => ({
        data: toPoints(line),
        showLine: true,
        pointRadius: 0,
        borderWidth: 0.9,
        borderColor: 'rgba(20,0,0,0.7)'
    }));
    const contourSets = cfg.contours.map(line => ({
        data: toPoints(line),
        isContour: true,
        showLine: true,
        pointRadius: 0,
        tension: 0.3,
        borderWidth: 1,
        borderColor: 'rgba(255,255,255,0.85)'
    }));

    return new Chart(canvas, {
        type: 'scatter',
        data: { datasets: [...coastSets, ...contourSets] },
        plugins: [heatPlugin, contourLabelPlugin],
        options: {
            responsive: false,
            animation: false,
            events: [],
            layout: { padding: 0 },
            plugins: {
                legend: { display: false },
                tooltip: { enabled: false },
                title: {
                    display: true,
                    text: cfg.title,
                    color: '#111',
                    font: { size: 34, weight: 'normal', lineHeight: 1.2 },
                    padding: { top: 4, bottom: 5.2 }
                },
                heat: { grid: cfg.grid, min: cfg.min, max: cfg.max },
                contourLabels: { labels: cfg.labels }
            },
            scales: {
                x: {
                    type: 'linear',
                    min: -180,
                    max: 180,
                    afterFit(s) { s.height = cfg.axisHeight; },
                    grid: { z: 1, drawTicks: false, color: 'rgba(0,0,0,0.35)' },
                    border: { display: false, dash: [1, 10] },
                    ticks: {
                        stepSize: 30,
                        autoSkip: false,
                        maxRotation: 0,
                        padding: 8,
                        labelOffset: 6,
                        font: { size: 22 },
                        callback: v => lonTickLabels[v] || null
                    }
                },
                y: {
                    type: 'linear',
                    min: -90,
                    max: 90,
                    afterFit(s) { s.width = cfg.axisWidth; },
                    grid: { z: 1, drawTicks: false, color: 'rgba(0,0,0,0.35)' },
                    border: { display: false, dash: [1, 10] },
                    ticks: {
                        stepSize: 15,
                        autoSkip: false,
                        crossAlign: 'center',
                        padding: 6,
                        font: { size: 22 },
                        callback: v => latTickLabels[v] || null
                    }
                },
                // empty axis, only keeps the room for the colour bar
                gap: {
                    type: 'linear',
                    position: 'right',
                    afterFit(s) { s.width = cfg.gapWidth; },
                    grid: { display: false },
                    border: { display: false },
                    ticks: { display: false }
                }
            }
        }
    });
}

function jetGradient(chart) {
    const area = chart.chartArea;
    if (!area) return '#000';
    const g = chart.ctx.createLinearGradient(0, area.bottom, 0, area.top);
    for (let i = 0; i < JET_LEVELS; i++) {
        const [r, gr, b] = jetColor((i + 0.5) / JET_LEVELS);
        g.addColorStop(i / JET_LEVELS, `rgb(${r},${gr},${b})`);
        g.addColorStop((i + 1) / JET_LEVELS, `rgb(${r},${gr},${b})`);
    }
    return g;
}

function drawBar(id, cfg) {
    const canvas = document.getElementById(id);
    canvas.width = cfg.width;
    canvas.height = cfg.height;
    canvas.style.left = cfg.left + 'px';
    canvas.style.top = cfg.top + 'px';

    return new Chart(canvas, {
        type: 'bar',
        data: {
            labels: ['dB'],
            datasets: [{
                data: [[cfg.min, cfg.max]],
                barPercentage: 1,
                categoryPercentage: 1,
                borderWidth: 1,
                borderSkipped: false,
                borderColor: '#333',
                backgroundColor: ctx => jetGradient(ctx.chart)
            }]
        },
        options: {
            responsive: false,
            animation: false,
            events: [],
            layout: { padding: { bottom: 12 } },
            plugins: {
                legend: { display: false },
                tooltip: { enabled: false },
                title: {
                    display: true,
                    text: 'dB',
                    fullSize: false,
                    color: '#222',
                    font: { size: 19, weight: 'normal', lineHeight: 1.2 },
                    padding: { top: 4, bottom: 3.2 }
                }
            },
            scales: {
                x: { display: false },
                y: {
                    position: 'right',
                    min: cfg.min,
                    max: cfg.max,
                    afterFit(s) { s.width = cfg.width - 25; },
                    grid: { drawOnChartArea: false, tickLength: 2, color: '#444' },
                    border: { display: false },
                    ticks: {
                        stepSize: cfg.step,
                        includeBounds: false,
                        autoSkip: false,
                        padding: 1,
                        font: { size: 20 },
                        callback: v => {
                            const hit = cfg.ticks.find(t => Math.abs(t - v) < 1e-6);
                            return hit === undefined ? null : String(hit);
                        }
                    }
                }
            }
        }
    });
}

drawMap('mapA', { left: 360, top: 0, width: 670, height: 450, axisWidth: 63, gapWidth: 93, axisHeight: 37, title: 'a. f=94 GHz', grid: gridA, min: 9.65, max: 41.2, contours: contoursA, labels: labelsA });
drawMap('mapB', { left: 5, top: 484, width: 660, height: 444, axisWidth: 63, gapWidth: 83, axisHeight: 31, title: 'b. f=140 GHz', grid: gridB, min: 4.14, max: 16.47, contours: contoursB, labels: labelsB });
drawMap('mapC', { left: 727, top: 484, width: 650, height: 444, axisWidth: 58, gapWidth: 78, axisHeight: 31, title: 'c. f=225 GHz', grid: gridC, min: 1.55, max: 6.1, contours: contoursC, labels: labelsC });

drawBar('barA', { left: 955, top: 20, width: 65, height: 407, min: 9.65, max: 41.2, step: 1, ticks: barTicksA });
drawBar('barB', { left: 600, top: 504, width: 65, height: 406, min: 4.14, max: 16.47, step: 0.5, ticks: barTicksB });
drawBar('barC', { left: 1317, top: 504, width: 60, height: 406, min: 1.55, max: 6.1, step: 0.1, ticks: barTicksC });
</script>
</body>
</html>
